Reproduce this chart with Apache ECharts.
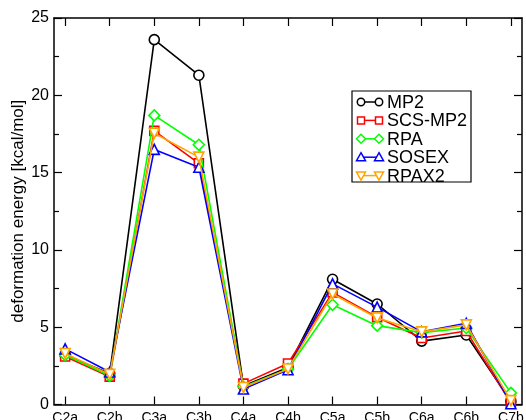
<!DOCTYPE html>
<html>
<head>
<meta charset="utf-8">
<script src="https://cdn.jsdelivr.net/npm/echarts@6/dist/echarts.min.js"></script>
<style>html,body{margin:0;padding:0;background:#fff}#c{width:526px;height:420px}</style>
</head>
<body>
<div id="c"></div>
<script>
const categories = ['C2a','C2b','C3a','C3b','C4a','C4b','C5a','C5b','C6a','C6b','C7b'];
const seriesNames = ['MP2','SCS-MP2','RPA','SOSEX','RPAX2'];
const mp2    = [3.2, 2.0, 23.6, 21.3, 1.2, 2.4, 8.1, 6.5, 4.1, 4.5, 0.2];
const scsmp2 = [3.1, 1.8, 17.7, 15.6, 1.35, 2.65, 7.25, 5.65, 4.3, 4.75, 0.1];
const rpa    = [3.2, 1.85, 18.7, 16.8, 1.15, 2.3, 6.45, 5.1, 4.65, 4.95, 0.75];
const sosex  = [3.6, 2.1, 16.5, 15.35, 1.0, 2.25, 7.8, 6.3, 4.7, 5.25, 0.05];
const rpax2  = [3.3, 1.95, 17.55, 16.0, 1.1, 2.3, 7.15, 5.6, 4.7, 5.15, 0.25];
const yTicks = [0, 5, 10, 15, 20, 25];

const valuesList = [mp2, scsmp2, rpa, sosex, rpax2];
const colors = ['#000000','#ff0000','#00ff00','#0000ff','#ffa500'];
const symbols = ['circle','rect','diamond','triangle','triangle'];
const symRot = [0,0,0,0,180];
const symSizes = [10,9,11,10,10];
const FONT = 'Liberation Sans, Arial, Helvetica, sans-serif';

const idx = categories.map((_, i) => i);

const chart = echarts.init(document.getElementById('c'), null, {renderer:'canvas'});

const series = seriesNames.map((n, k) => ({
  name: n,
  type: 'line',
  data: valuesList[k].map((v, i) => [i, v]),
  symbol: symbols[k],
  symbolRotate: symRot[k],
  symbolSize: symSizes[k],
  showAllSymbol: true,
  lineStyle: {color: colors[k], width: 1.6},
  itemStyle: {color: '#fff', borderColor: colors[k], borderWidth: 1.6},
  emphasis: {disabled: true},
  animation: false,
  z: 2 + k
}));

// Legend drawn as graphic
const lg = {x: 352, y: 91, w: 119, h: 91, row0: 102, dy: 18.4, lx1: 361, lx2: 379, tx: 387};
const graphics = [{
  type: 'rect', shape: {x: lg.x, y: lg.y, width: lg.w, height: lg.h},
  style: {fill: '#fff', stroke: '#000', lineWidth: 1.2}, z: 100
}];
function markerShape(k, cx, cy) {
  const st = {fill: '#fff', stroke: colors[k], lineWidth: 1.5};
  if (k === 0) return {type: 'circle', shape: {cx, cy, r: 3.7}, style: st, z: 102};
  if (k === 1) return {type: 'rect', shape: {x: cx - 3.5, y: cy - 3.5, width: 7, height: 7}, style: st, z: 102};
  if (k === 2) return {type: 'polygon', shape: {points: [[cx, cy - 4.5], [cx + 4.5, cy], [cx, cy + 4.5], [cx - 4.5, cy]]}, style: st, z: 102};
  if (k === 3) return {type: 'polygon', shape: {points: [[cx, cy - 4.5], [cx + 4.5, cy + 3.5], [cx - 4.5, cy + 3.5]]}, style: st, z: 102};
  return {type: 'polygon', shape: {points: [[cx, cy + 4.5], [cx + 4.5, cy - 3.5], [cx - 4.5, cy - 3.5]]}, style: st, z: 102};
}
seriesNames.forEach((n, k) => {
  const cy = lg.row0 + k * lg.dy;
  graphics.push({type: 'line', shape: {x1: lg.lx1, y1: cy, x2: lg.lx2, y2: cy}, style: {stroke: colors[k], lineWidth: 1.5}, z: 101});
  graphics.push(markerShape(k, lg.lx1, cy));
  graphics.push(markerShape(k, lg.lx2, cy));
  graphics.push({type: 'text', x: lg.tx, y: cy + 1, style: {text: n, font: '18px ' + FONT, fill: '#000', verticalAlign: 'middle', align: 'left'}, z: 102});
});

const axisLine = {show: true, onZero: false, lineStyle: {color: '#000', width: 1.5}};

chart.setOption({
  backgroundColor: '#fff',
  animation: false,
  grid: {left: 54, right: 4, top: 18, bottom: 15.5, containLabel: false, outerBoundsMode: 'none'},
  xAxis: [{
    type: 'value', min: -0.25, max: 10.25, position: 'bottom',
    axisLine: axisLine,
    axisTick: {show: true, inside: true, length: 8, customValues: idx, lineStyle: {color: '#000', width: 1.2}},
    axisLabel: {show: true, customValues: idx, formatter: v => categories[Math.round(v)] || '', color: '#000', fontSize: 14, fontFamily: FONT, margin: 7},
    splitLine: {show: false}
  }, {
    type: 'value', min: -0.25, max: 10.25, position: 'top',
    axisLine: axisLine,
    axisTick: {show: true, inside: true, length: 8, customValues: idx, lineStyle: {color: '#000', width: 1.2}},
    axisLabel: {show: false},
    splitLine: {show: false}
  }],
  yAxis: [{
    type: 'value', min: 0, max: 25, interval: 5, position: 'left',
    name: 'deformation energy [kcal/mol]', nameLocation: 'middle', nameGap: 27, nameMoveOverlap: false,
    nameTextStyle: {color: '#000', fontSize: 17, fontFamily: FONT},
    axisLine: axisLine,
    axisTick: {show: true, inside: true, length: 8, lineStyle: {color: '#000', width: 1.2}},
    minorTick: {show: true, splitNumber: 2, length: 5, lineStyle: {color: '#000', width: 1.2}},
    axisLabel: {color: '#000', fontSize: 16, fontFamily: FONT, margin: 5, customValues: yTicks},
    splitLine: {show: false}
  }, {
    type: 'value', min: 0, max: 25, interval: 5, position: 'right',
    axisLine: axisLine,
    axisTick: {show: true, inside: true, length: 8, lineStyle: {color: '#000', width: 1.2}},
    minorTick: {show: true, splitNumber: 2, length: 5, lineStyle: {color: '#000', width: 1.2}},
    axisLabel: {show: false},
    splitLine: {show: false}
  }],
  series: series,
  graphic: graphics
});
</script>
</body>
</html>
